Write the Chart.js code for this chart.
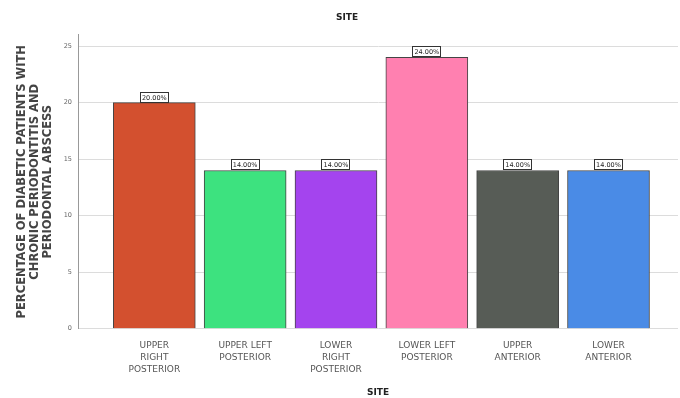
<!DOCTYPE html>
<html>
<head>
<meta charset="utf-8" />
<title>SITE</title>
<script src="https://cdn.jsdelivr.net/npm/chart.js@4.4.1/dist/chart.umd.min.js"></script>
<style>
  html, body { margin: 0; padding: 0; background: #fff; }
  #wrap { width: 680px; height: 398px; }
</style>
</head>
<body>
<div id="wrap"><canvas id="myChart" width="680" height="398"></canvas></div>
<script>
// categories (multi-line labels) and values
var sites = [
    ['UPPER', 'RIGHT', 'POSTERIOR'],
    ['UPPER LEFT', 'POSTERIOR'],
    ['LOWER', 'RIGHT', 'POSTERIOR'],
    ['LOWER LEFT', 'POSTERIOR'],
    ['UPPER', 'ANTERIOR'],
    ['LOWER', 'ANTERIOR']
];
var percents = [20, 14, 14, 24, 14, 14];
var valueLabels = ['20.00%', '14.00%', '14.00%', '24.00%', '14.00%', '14.00%'];
var barColors = ['#d3502f', '#3de27f', '#a444ee', '#ff80b0', '#575c56', '#4a8be6'];
var yTicks = [0, 5, 10, 15, 20, 25];

var font = "'DejaVu Sans', 'Liberation Sans', Arial, sans-serif";

// boxed % labels above each bar
var boxLabels = {
    id: 'boxLabels',
    afterDatasetsDraw: function(chart) {
        var ctx = chart.ctx;
        var meta = chart.getDatasetMeta(0);
        ctx.save();
        ctx.font = '6.5px ' + font;
        ctx.textAlign = 'center';
        ctx.textBaseline = 'middle';
        meta.data.forEach(function(bar, i) {
            var w = 29, h = 11;
            var x = Math.round(bar.x - w / 2), y = Math.round(bar.y - h);
            ctx.fillStyle = '#fff';
            ctx.fillRect(x, y, w, h);
            ctx.strokeStyle = '#333';
            ctx.lineWidth = 1;
            ctx.strokeRect(x + 0.5, y + 0.5, w - 1, h - 1);
            ctx.fillStyle = '#222';
            ctx.fillText(valueLabels[i], bar.x, y + h / 2 + 0.5);
        });
        ctx.restore();
    }
};

var ctx = document.getElementById('myChart').getContext('2d');
var chart = new Chart(ctx, {
    type: 'bar',
    data: {
        datasets: [{
            data: percents.map(function(v, i) { return { x: i, y: v }; }),
            backgroundColor: barColors,
            borderColor: '#444',
            borderWidth: 1,
            barThickness: 82
        }]
    },
    options: {
        responsive: false,
        animation: false,
        layout: { padding: { left: 16, right: 2, top: 0, bottom: 0 } },
        plugins: {
            legend: { display: false },
            tooltip: { enabled: false },
            title: {
                display: true,
                text: 'SITE',
                color: '#222',
                font: { family: font, size: 9, weight: 'bold' },
                padding: { top: 12, bottom: 12 }
            }
        },
        scales: {
            x: {
                type: 'linear',
                offset: false,
                min: -0.84,
                max: 5.765,
                afterBuildTicks: function(scale) {
                    scale.ticks = sites.map(function(s, i) { return { value: i }; });
                },
                ticks: {
                    autoSkip: false,
                    maxRotation: 0,
                    color: '#555',
                    font: { family: font, size: 9, lineHeight: 1.35 },
                    padding: 2.5,
                    callback: function(v) { return sites[v]; }
                },
                grid: { display: false },
                border: { display: false },
                title: {
                    display: true,
                    text: 'SITE',
                    color: '#222',
                    font: { family: font, size: 9, weight: 'bold' },
                    padding: { top: 9, bottom: 0 }
                }
            },
            y: {
                min: 0,
                max: 26,
                afterBuildTicks: function(scale) {
                    scale.ticks = yTicks.map(function(v) { return { value: v }; });
                },
                afterFit: function(scale) { scale.width = 62; },
                ticks: {
                    color: '#666',
                    font: { family: font, size: 6.5 },
                    padding: 6
                },
                grid: { color: '#dcdcdc', drawTicks: false },
                border: { display: true, color: '#999' },
                title: {
                    display: true,
                    text: ['PERCENTAGE OF DIABETIC PATIENTS WITH', 'CHRONIC PERIODONTITIS AND', 'PERIODONTAL ABSCESS'],
                    color: '#444',
                    font: { family: font, size: 11.5, weight: 'bold', lineHeight: 1.12 },
                    padding: { top: 0, bottom: 2 }
                }
            }
        }
    },
    plugins: [boxLabels]
});
</script>
</body>
</html>
